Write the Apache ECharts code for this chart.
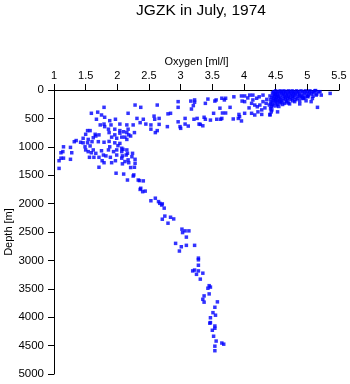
<!DOCTYPE html>
<html>
<head>
<meta charset="utf-8">
<script src="https://cdn.jsdelivr.net/npm/echarts@6/dist/echarts.min.js"></script>
<style>
html,body{margin:0;padding:0;background:#fff;}
#chart{width:350px;height:384px;}
</style>
</head>
<body>
<div id="chart"></div>
<script>
// Oxygen [ml/l] and Depth [m] values
const oxygen = [
2.16,2.35,2.41,2.37,2.36,2.40,2.44,2.60,2.53,2.65,2.67,2.71,2.70,2.74,2.75,2.71,2.80,2.84,2.89,3.02,
3.03,3.07,3.13,3.09,2.92,3.01,3.09,3.22,2.98,3.28,3.28,3.28,3.19,3.22,3.28,3.25,3.35,3.31,3.45,3.43,
3.47,3.45,3.37,3.35,3.37,3.58,3.54,3.51,3.55,3.47,3.47,3.46,3.54,3.54,3.50,3.52,3.56,3.65,3.68,3.54,
3.54,
1.79,1.59,1.69,1.75,1.80,1.67,1.88,1.97,1.73,1.79,1.80,1.90,2.04,2.15,1.53,1.57,1.86,1.96,2.04,2.10,
2.17,1.50,1.65,1.71,1.87,1.96,2.04,1.46,1.54,1.62,1.66,1.91,1.99,2.07,2.15,1.32,1.35,1.42,1.46,1.53,
1.60,1.70,1.79,1.87,1.96,2.04,1.15,1.26,1.49,1.57,1.88,2.01,1.50,1.54,1.62,1.75,1.86,1.94,1.99,2.07,
2.15,1.11,1.14,1.28,1.59,1.66,1.78,1.82,1.99,2.08,2.16,1.08,1.11,1.15,1.26,1.56,1.63,1.71,1.76,1.79,
1.89,1.91,1.97,2.07,2.12,2.17,1.08,1.71,1.98,2.10,
2.28,2.37,2.63,2.96,2.96,2.17,2.31,2.41,2.58,2.59,2.66,2.80,2.84,3.07,2.25,2.36,2.45,2.53,2.66,2.79,
2.96,3.00,3.07,3.12,3.29,2.15,2.27,2.53,2.63,2.60,2.18,2.21,2.12,2.07,2.09,2.24,2.14,2.23,2.28,2.28,
2.18,2.08,2.21,2.27,2.25,2.26,2.33,2.99,
3.16,3.22,3.22,3.20,3.17,3.43,3.39,3.54,3.56,3.65,3.71,3.69,3.84,3.96,3.97,3.62,3.78,3.52,3.66,3.71,
3.21,3.26,3.37,3.39,3.47,3.57,3.63,3.65,3.83,3.91,3.93,3.96,4.01,3.31,3.35,4.12,4.17,4.28,4.41,3.92,
4.01,4.01,4.09,4.14,4.12,4.17,4.21,4.25,4.30,4.35,4.40,4.46,4.51,4.14,4.20,4.24,4.30,4.36,4.41,4.49,
4.52,4.56,4.64,4.72,4.80,4.88,4.93,5.01,5.06,5.16,4.88,5.14,5.22,5.13,5.36,4.41,5.20,
4.06,4.08,4.28,4.22,4.33,4.44,4.49,4.53,4.42,4.43,
4.50,4.57,4.63,4.70,4.76,4.83,4.90,4.97,5.04,5.12,
4.47,4.54,4.60,4.66,4.73,4.79,4.86,4.92,5.00,5.08,5.18,
4.45,4.52,4.59,4.65,4.71,4.78,4.84,4.95,5.03,5.10,
4.50,4.56,4.62,4.69,4.75,4.81,4.88,4.98,5.06,5.15,
4.46,4.53,4.61,4.67,4.74,4.80,4.87,4.93,5.02,
4.48,4.55,4.64,4.70,4.77,4.85,4.91,5.00,5.09,
4.44,4.51,4.58,4.66,4.72,4.79,4.89,4.96,
4.47,4.55,4.62,4.69,4.76,4.84,4.94,5.08,
4.42,4.50,4.57,4.65,4.73,4.82,
4.46,4.53,4.60,4.68,4.77,4.98,
4.44,4.51,4.59,4.67,
4.42,4.49,4.57,4.70,
4.45,4.53,4.61,
4.43,4.55
];
const depth = [
1585,1595,1600,1730,1750,1790,1780,1905,1950,1965,1995,2005,2025,2080,2220,2275,2345,2240,2270,2450,
2510,2480,2480,2590,2700,2760,2735,2735,2835,2960,2990,3085,3185,3170,3185,3245,3225,3330,3445,3490,
3470,3590,3625,3685,3735,3730,3825,3920,3965,4010,4095,4105,4155,4195,4230,4335,4420,4455,4475,4510,
4590,
305,410,390,440,480,515,540,515,615,600,645,615,600,615,715,715,690,690,715,735,
690,780,780,790,750,790,760,850,870,840,810,830,850,830,870,910,890,920,930,930,
910,910,920,905,930,940,1000,1010,1000,985,1000,980,1055,1085,1055,1070,1055,1085,1055,1085,
1055,1105,1085,1105,1105,1115,1145,1160,1145,1160,1115,1245,1200,1200,1220,1185,1185,1185,1245,1280,
1185,1280,1245,1200,1260,1230,1380,1360,1465,1480,
265,305,265,205,305,410,500,515,460,515,500,420,410,500,615,575,600,615,605,645,
560,675,600,635,600,750,750,690,715,750,790,810,830,1025,1045,1115,1145,1175,1220,1290,
1280,1300,1365,1360,1515,1495,1585,645,
195,175,215,275,335,160,235,195,175,145,145,175,120,105,195,320,305,410,405,405,
515,500,480,515,530,515,515,500,510,500,470,545,410,605,630,410,440,430,430,430,
205,105,90,90,235,265,295,265,205,235,265,280,280,175,145,120,90,165,105,70,
120,205,235,245,205,190,145,120,205,305,245,90,90,10,60,440,30,
140,315,350,385,315,350,175,385,330,385,
15,15,15,15,15,15,15,15,15,15,
30,30,30,30,30,30,30,30,30,30,30,
50,50,50,50,50,50,50,50,50,50,
70,70,70,70,70,70,70,70,70,70,
90,90,90,90,90,90,90,90,90,
110,110,110,110,110,110,110,110,110,
130,130,130,130,130,130,130,130,
150,150,150,150,150,150,150,150,
170,170,170,170,170,170,
190,190,190,190,190,190,
210,210,210,210,
230,230,230,230,
255,255,255,
290,290
];
const xTicks = [1, 1.5, 2, 2.5, 3, 3.5, 4, 4.5, 5, 5.5];
const yTicks = [0, 500, 1000, 1500, 2000, 2500, 3000, 3500, 4000, 4500, 5000];

const points = oxygen.map((o, i) => [o, depth[i]]);
const FONT = 'Liberation Sans, Arial, sans-serif';

const chart = echarts.init(document.getElementById('chart'), null, {renderer: 'canvas'});
chart.setOption({
  animation: false,
  backgroundColor: '#ffffff',
  title: {
    text: 'JGZK in July, 1974',
    left: 196,
    textAlign: 'center',
    top: -2,
    textStyle: {fontFamily: FONT, fontSize: 15.5, fontWeight: 'normal', color: '#000'}
  },
  grid: {left: 54, right: 11, top: 90, bottom: 10, containLabel: false, outerBoundsMode: 'none'},
  xAxis: {
    type: 'value',
    position: 'top',
    min: xTicks[0],
    max: xTicks[xTicks.length - 1],
    interval: 0.5,
    name: 'Oxygen [ml/l]',
    nameLocation: 'middle',
    nameGap: 23,
    nameMoveOverlap: false,
    nameTextStyle: {fontFamily: FONT, fontSize: 11, color: '#000'},
    axisLine: {show: true, lineStyle: {color: '#000', width: 1}},
    axisTick: {show: true, inside: false, length: 6, lineStyle: {color: '#000'}},
    axisLabel: {fontFamily: FONT, fontSize: 11, color: '#000', margin: 9, formatter: v => String(v)},
    splitLine: {show: false}
  },
  yAxis: {
    type: 'value',
    inverse: true,
    min: yTicks[0],
    max: yTicks[yTicks.length - 1],
    interval: 500,
    name: 'Depth [m]',
    nameLocation: 'middle',
    nameGap: 40,
    nameMoveOverlap: false,
    nameTextStyle: {fontFamily: FONT, fontSize: 11, color: '#000'},
    axisLine: {show: true, lineStyle: {color: '#000', width: 1}},
    axisTick: {show: true, inside: false, length: 6, lineStyle: {color: '#000'}},
    axisLabel: {fontFamily: FONT, fontSize: 11.5, color: '#000', margin: 10, formatter: v => String(v)},
    splitLine: {show: false}
  },
  series: [{
    type: 'scatter',
    data: points,
    symbol: 'rect',
    symbolSize: [3.5, 3.5],
    itemStyle: {color: '#0000ff'},
    silent: true
  }]
});
</script>
</body>
</html>
